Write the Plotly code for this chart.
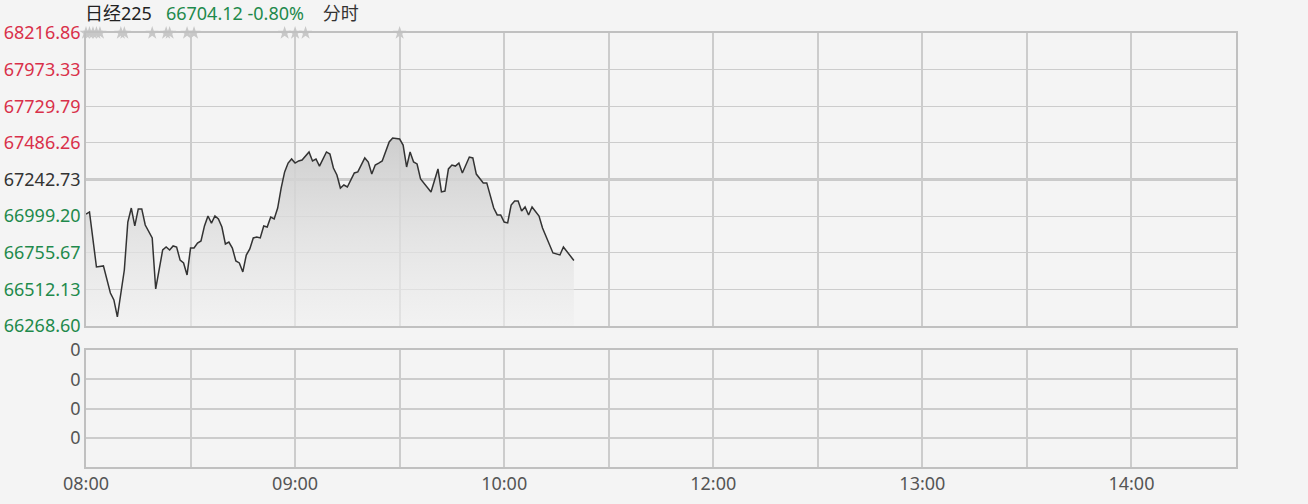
import plotly.graph_objects as go

prev_close = 67242.73
last_price = 66704.12

# minutes since 08:00 (morning session), price
minutes = [0, 1, 3, 5, 7, 8, 9, 10, 11, 12, 13, 14, 15, 16, 17, 19, 20, 22, 23, 24,
           25, 26, 27, 28, 29, 30, 31, 32, 33, 34, 35, 36, 37, 38, 39, 40, 41, 42, 43, 44,
           45, 46, 47, 48, 49, 50, 51, 52, 53, 54, 55, 56, 57, 58, 59, 60, 61, 62, 64, 65,
           66, 67, 68, 69, 70, 71, 72, 73, 74, 75, 77, 78, 80, 81, 82, 83, 84, 85, 87, 88,
           90, 91, 92, 93, 94, 95, 96, 99, 101, 102, 103, 104, 105, 106, 107, 108, 110, 111, 112, 113,
           114, 115, 117, 118, 119, 120, 121, 122, 123, 124, 125, 126, 127, 128, 130, 131, 133, 134, 136, 137,
           140]
prices = [67013, 67027, 66661, 66668, 66488, 66442, 66329, 66488, 66641, 66960, 67053, 66934, 67047, 67047, 66940, 66854, 66515, 66774, 66794, 66774,
          66801, 66794, 66707, 66688, 66608, 66787, 66787, 66820, 66834, 66934, 67000, 66953, 67000, 66980, 66927, 66814, 66827, 66787, 66701, 66688,
          66628, 66740, 66781, 66854, 66860, 66854, 66934, 66927, 66993, 66980, 67053, 67186, 67293, 67352, 67379, 67352, 67366, 67372, 67426, 67366,
          67379, 67332, 67379, 67426, 67412, 67319, 67273, 67186, 67206, 67193, 67286, 67293, 67386, 67359, 67279, 67339, 67352, 67366, 67492, 67519,
          67512, 67472, 67326, 67426, 67359, 67346, 67246, 67160, 67313, 67160, 67166, 67313, 67339, 67332, 67352, 67286, 67392, 67386, 67279, 67253,
          67220, 67220, 67053, 67007, 67007, 66960, 66954, 67073, 67100, 67100, 67033, 67060, 67007, 67060, 67000, 66920, 66814, 66754, 66741, 66794,
          66704.12]

price_ticks = [68216.86, 67973.33, 67729.79, 67486.26, 67242.73, 66999.20, 66755.67, 66512.13, 66268.60]
pct_labels = ["1.45%", "1.09%", "0.72%", "0.36%", "0.00%", "0.36%", "0.72%", "1.09%", "1.45%"]
event_minutes = [0, 1, 2, 3, 4, 10, 11, 19, 23, 24, 29, 31, 57, 60, 63, 90]
time_ticks = [0, 60, 120, 180, 240, 300]
time_labels = ["08:00", "09:00", "10:00", "12:00", "13:00", "14:00"]
vol_ticks = [1, 2, 3, 4]
vol_labels = ["0", "0", "0", "0"]

RED = "#d9304a"
GREEN = "#1f8a4c"
DARK = "#333333"
GRID = "#cccccc"
BG = "#f4f4f4"
FONT = "Noto Sans, Noto Sans CJK SC, sans-serif"


def tick_color(v):
    if abs(v - prev_close) < 0.01:
        return DARK
    return RED if v > prev_close else GREEN


left_text = [f'<span style="color:{tick_color(v)}">{v:.2f}</span>' for v in price_ticks]
right_text = [f'<span style="color:{tick_color(v)}">{t}</span>' for v, t in zip(price_ticks, pct_labels)]

ymin, ymax = price_ticks[-1], price_ticks[0]

fig = go.Figure()
fig.add_trace(go.Scatter(x=minutes, y=[ymin] * len(minutes), mode="lines",
                         line=dict(width=0), hoverinfo="skip", showlegend=False))
fig.add_trace(go.Scatter(x=minutes, y=prices, mode="lines", fill="tonexty",
                         line=dict(color="#333333", width=1.5),
                         fillgradient=dict(type="vertical", start=ymin, stop=max(prices),
                                           colorscale=[[0, "rgba(240,240,240,0.6)"],
                                                       [1, "rgba(204,204,204,0.95)"]]),
                         showlegend=False))
fig.add_trace(go.Scatter(x=event_minutes, y=[ymax] * len(event_minutes), mode="markers",
                         marker=dict(symbol="star", size=10, color="#c8c8c8"),
                         cliponaxis=False, showlegend=False))
fig.add_trace(go.Scatter(x=[0, 330], y=[0, 0], mode="lines", line=dict(width=0),
                         xaxis="x2", yaxis="y2", showlegend=False, hoverinfo="skip"))

H = 434.0
main_dom = [(467 - 326) / H, 1]
sub_dom = [0, (467 - 350) / H]

axis_common = dict(showline=True, linecolor="#c0c0c0", linewidth=1.5, mirror=True,
                   zeroline=False, ticks="", automargin=False)

fig.update_layout(
    width=1308, height=504,
    margin=dict(l=86, r=72, t=33, b=37),
    paper_bgcolor=BG, plot_bgcolor=BG,
    font=dict(family=FONT, size=18, color="#555555"),
    xaxis=dict(domain=[0, 1], range=[0, 330], dtick=30, tick0=0, showticklabels=False,
               showgrid=True, gridcolor=GRID, gridwidth=1.5, anchor="y", **axis_common),
    yaxis=dict(domain=main_dom, range=[ymin, ymax], tickvals=price_ticks, ticktext=left_text,
               showgrid=True, gridcolor=GRID, gridwidth=1, **axis_common),
    yaxis3=dict(overlaying="y", side="right", range=[ymin, ymax], tickvals=price_ticks,
                ticktext=right_text, showgrid=False, zeroline=False, showline=False, ticks="",
                automargin=False),
    xaxis2=dict(domain=[0, 1], range=[0, 330], tickvals=list(range(0, 331, 30)),
                ticktext=[time_labels[time_ticks.index(v)] if v in time_ticks else "" for v in range(0, 331, 30)],
                showgrid=True, gridcolor=GRID, gridwidth=1.5, anchor="y2",
                tickfont=dict(color="#555555"), **axis_common),
    yaxis2=dict(domain=sub_dom, range=[0, 4], tickvals=vol_ticks, ticktext=vol_labels,
                showgrid=True, gridcolor=GRID, gridwidth=2, anchor="x2",
                tickfont=dict(color="#555555"), **axis_common),
    shapes=[dict(type="line", xref="x", yref="y", x0=0, x1=330, y0=prev_close, y1=prev_close,
                 line=dict(color="#bdbdbd", width=2.5), layer="below")],
    annotations=[dict(xref="paper", yref="paper", x=-3 / 1150, y=1 + 20 / H,
                      xanchor="left", yanchor="middle", showarrow=False,
                      font=dict(size=18, family=FONT),
                      text=f'<span style="color:#222222">日经225</span>&nbsp;&nbsp;&nbsp;'
                           f'<span style="color:{GREEN}">{last_price:.2f} {(last_price - prev_close) / prev_close * 100:.2f}%</span>'
                           f'&nbsp;&nbsp;&nbsp;&nbsp;<span style="color:#333333">分时</span>')],
)

fig.write_html("out.html", config={"displayModeBar": False},
               post_script="document.body.style.margin='0';")
